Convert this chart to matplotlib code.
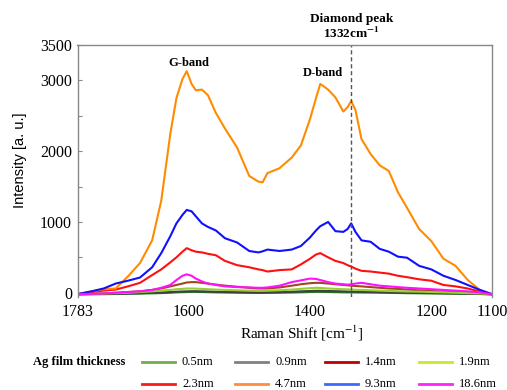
import matplotlib
matplotlib.use("Agg")
import matplotlib.pyplot as plt
from matplotlib.lines import Line2D

plt.rcParams['font.family'] = ['Liberation Serif', 'DejaVu Serif']
plt.rcParams['mathtext.fontset'] = 'stix'

# Raman shift grid [cm^-1]
shift = [1783, 1760, 1740, 1720, 1700, 1680, 1660, 1645, 1630, 1620, 1610, 1603,
         1595, 1588, 1578, 1568, 1555, 1540, 1520, 1500, 1485, 1478, 1470, 1450,
         1430, 1415, 1400, 1390, 1383, 1370, 1358, 1345, 1338, 1332, 1325, 1315,
         1300, 1285, 1270, 1255, 1240, 1220, 1200, 1180, 1160, 1140, 1120, 1100]

labels = ['0.5nm', '0.9nm', '1.4nm', '1.9nm', '2.3nm', '4.7nm', '9.3nm', '18.6nm']

i_05 = [-25, -22, -20, -18, -15, -12, -8, -5, 0, 5, 8, 10, 12, 12, 10, 8, 5, 3, 0, -2,
        -3, -3, -2, 0, 3, 6, 10, 12, 12, 10, 8, 6, 5, 5, 4, 3, 2, 0, -2, -4, -6, -8,
        -10, -12, -14, -16, -18, -25]
i_09 = [-20, -18, -15, -12, -10, -5, 0, 5, 10, 15, 18, 20, 22, 22, 20, 18, 15, 12, 10,
        8, 6, 6, 7, 10, 15, 20, 25, 28, 28, 25, 22, 20, 18, 18, 16, 14, 12, 10, 8, 5,
        3, 0, -3, -6, -9, -12, -15, -20]
i_14 = [-20, -15, -10, 0, 10, 20, 40, 60, 90, 110, 130, 145, 150, 150, 140, 130, 115,
        100, 85, 70, 60, 60, 60, 75, 100, 120, 135, 140, 140, 130, 120, 110, 105, 100,
        95, 90, 80, 70, 60, 55, 45, 35, 25, 15, 10, 5, 0, -20]
i_19 = [-20, -15, -10, -5, 0, 10, 20, 30, 40, 50, 55, 60, 60, 58, 55, 50, 45, 40, 35,
        30, 28, 28, 30, 35, 45, 55, 65, 70, 68, 60, 55, 50, 48, 45, 42, 40, 35, 30, 25,
        22, 18, 15, 10, 5, 0, -5, -10, -20]
i_23 = [-20, 10, 30, 45, 90, 140, 250, 330, 430, 500, 580, 630, 600, 580, 570, 550,
        530, 450, 390, 360, 330, 320, 300, 320, 330, 400, 480, 540, 560, 500, 450, 420,
        390, 370, 340, 310, 300, 285, 270, 240, 220, 190, 170, 110, 90, 60, 15, -20]
i_47 = [-20, 20, 50, 60, 230, 420, 740, 1300, 2250, 2750, 3020, 3130, 2950, 2860, 2870,
        2790, 2540, 2320, 2050, 1650, 1570, 1560, 1690, 1760, 1910, 2080, 2450, 2750,
        2950, 2870, 2760, 2560, 2620, 2710, 2580, 2170, 1960, 1800, 1720, 1420, 1200,
        900, 730, 480, 380, 180, 40, -20]
i_93 = [-20, 20, 60, 130, 170, 215, 360, 560, 800, 980, 1100, 1170, 1150, 1080, 980,
        930, 880, 770, 710, 590, 570, 585, 610, 590, 610, 660, 780, 880, 940, 1000, 870,
        860, 900, 980, 860, 740, 720, 620, 580, 510, 495, 380, 330, 240, 180, 110, 40, -20]
i_186 = [-20, -15, -10, 0, 10, 20, 40, 70, 110, 180, 240, 260, 240, 200, 160, 130, 110,
         90, 80, 75, 70, 70, 75, 100, 150, 175, 200, 195, 180, 150, 130, 120, 115, 120,
         130, 140, 120, 100, 90, 80, 70, 60, 50, 40, 30, 20, 5, -20]

series = [i_05, i_09, i_14, i_19, i_23, i_47, i_93, i_186]
plot_colors = ['#1f7a1f', '#404040', '#a0461e', '#9acd32', '#ff1010', '#ff8c00', '#1010ff', '#ff10ff']
legend_colors = ['#70ad47', '#808080', '#c00000', '#c8ea2c', '#ff1a1a', '#ff8c3a', '#3a6bff', '#ff22ff']

yticks = [0, 500, 1000, 1500, 2000, 2500, 3000, 3500]
ytick_labels = ['0', '', '1000', '', '2000', '', '3000', '3500']
xticks = [1783, 1600, 1400, 1200, 1100]

fig = plt.figure(figsize=(5.07, 3.90), dpi=100)
ax = fig.add_axes([77.5 / 507, 1 - 297 / 390, (492 - 77.5) / 507, (297 - 45) / 390])

for vals, c in zip(series, plot_colors):
    ax.plot(shift, vals, color=c, lw=1.5, solid_joinstyle='round')

ax.set_xlim(1783, 1100)
ax.set_ylim(-60, 3500)
ax.set_yticks(yticks)
ax.set_yticklabels(ytick_labels, fontsize=11.5)
ax.set_xticks(xticks)
ax.set_xticklabels([str(v) for v in xticks], fontsize=11.5)
ax.tick_params(axis='y', direction='in', length=3, color='#888888', pad=4)
ax.tick_params(axis='x', length=0, pad=5)
for s in ['top', 'right', 'left']:
    ax.spines[s].set_color('#888888')
    ax.spines[s].set_linewidth(1.0)
ax.spines['bottom'].set_visible(False)

# diamond peak line
ax.axvline(1332, ymin=0.0, ymax=1.0, color='#555555', lw=1.0, ls=(0, (3, 2)))

ax.text(1600, 3250, 'G-band', ha='center', va='center', fontsize=9, fontweight='bold')
ax.text(1378, 3100, 'D-band', ha='center', va='center', fontsize=9, fontweight='bold')
ax.text(1332, 3870, 'Diamond peak', ha='center', va='center', fontsize=9.5,
        fontweight='bold', clip_on=False)
ax.text(1332, 3660, r'1332cm$\mathbf{^{-1}}$', ha='center', va='center', fontsize=9.5,
        fontweight='bold', clip_on=False)

fig.text(20 / 507, 1 - 160 / 390, 'Intensity [a. u.]', rotation=90, ha='center',
         va='center', fontsize=10.5, family='Liberation Sans')
fig.text(302 / 507, 1 - 333 / 390, r'Raman Shift [cm$^{-1}$]', ha='center', va='center',
         fontsize=11)

# legend
fig.text(33 / 507, 1 - 362 / 390, 'Ag film thickness', ha='left', va='center',
         fontsize=9, fontweight='bold')
col_x = [142, 235, 325, 419]
row_y = [362, 384]
for k, (lab, c) in enumerate(zip(labels, legend_colors)):
    r, col = divmod(k, 4)
    x0 = col_x[col]
    y0 = row_y[r]
    fig.add_artist(Line2D([x0 / 507, (x0 + 33) / 507], [1 - y0 / 390, 1 - y0 / 390],
                          color=c, lw=2, transform=fig.transFigure))
    fig.text((x0 + 40) / 507, 1 - y0 / 390, lab, ha='left', va='center', fontsize=9)

fig.savefig('out.png', dpi=100)
